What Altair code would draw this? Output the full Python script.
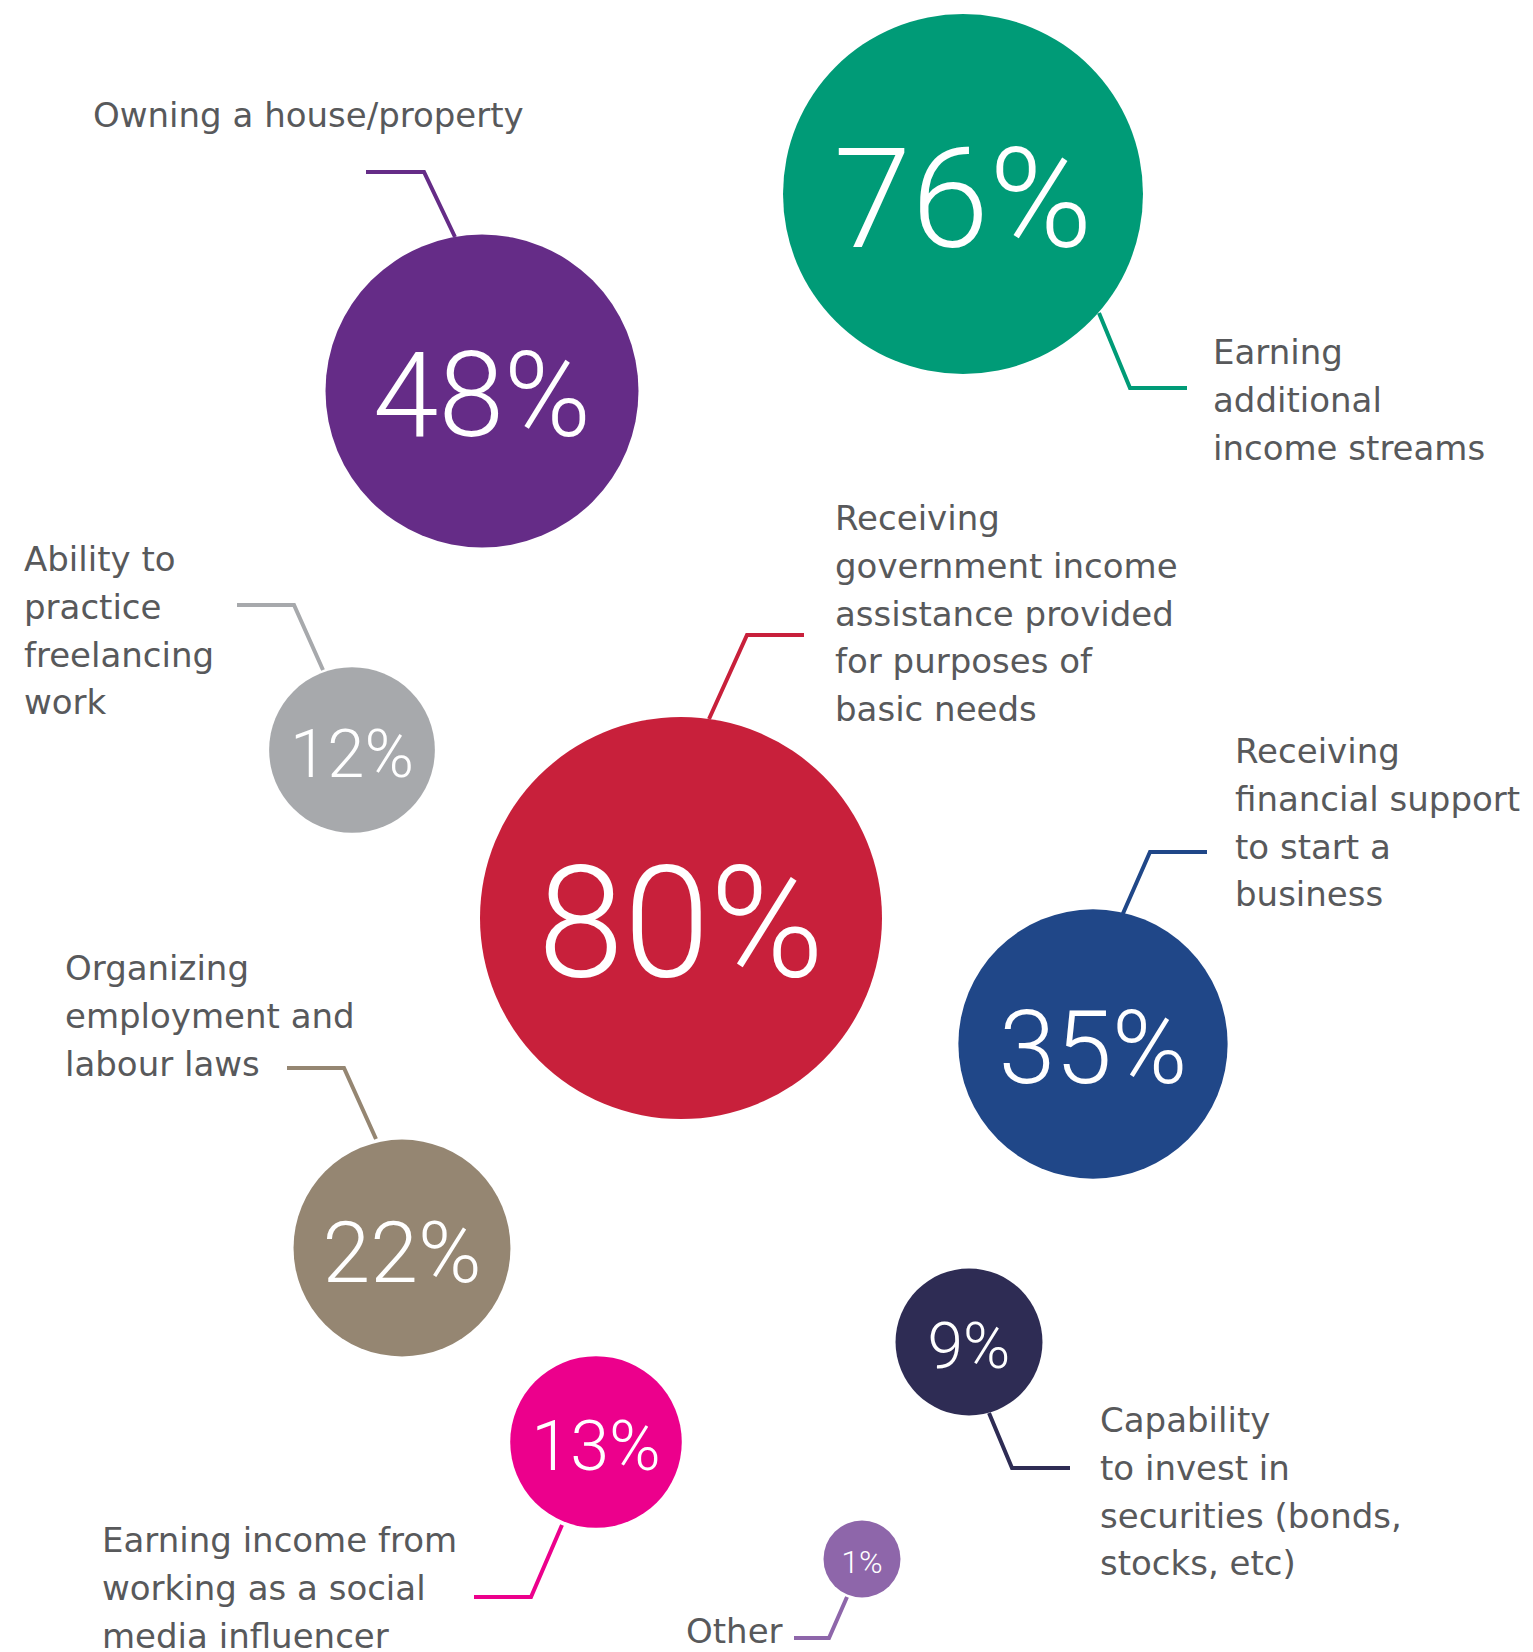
import altair as alt
import pandas as pd

# ---------------- data ----------------
categories = ["house", "income_streams", "freelancing", "gov_assistance",
              "business", "labour_laws", "securities", "influencer", "other"]
values = [48, 76, 12, 80, 35, 22, 9, 13, 1]
value_labels = ["48%", "76%", "12%", "80%", "35%", "22%", "9%", "13%", "1%"]
labels = [
    "Owning a house/property",
    "Earning\nadditional\nincome streams",
    "Ability to\npractice\nfreelancing\nwork",
    "Receiving\ngovernment income\nassistance provided\nfor purposes of\nbasic needs",
    "Receiving\nfinancial support\nto start a\nbusiness",
    "Organizing\nemployment and\nlabour laws",
    "Capability\nto invest in\nsecurities (bonds,\nstocks, etc)",
    "Earning income from\nworking as a social\nmedia influencer",
    "Other",
]

# ---------------- layout / style ----------------
colors = ["#652C87", "#009B77", "#A7A9AC", "#C8203B", "#204788",
          "#958672", "#2E2C54", "#EC008C", "#8E66AA"]
cx = [482, 963, 352, 681, 1093, 402, 969, 596, 862]
cy = [391, 194, 750, 918, 1044, 1248, 1342, 1442, 1559]
num_font = [118, 140, 67, 155, 102, 86, 64, 70, 32]
label_x = [93, 1213, 24, 835, 1235, 65, 1100, 102, 686]
label_y = [127, 364, 571, 530, 763, 980, 1432, 1552, 1643]
leader_x = [[366, 424, 455], [1099, 1130, 1187], [237, 294, 323],
            [804, 747, 709], [1207, 1150, 1121], [287, 344, 376],
            [989, 1012, 1070], [562, 531, 474], [847, 829, 794]]
leader_y = [[172, 172, 237], [313, 388, 388], [605, 605, 670],
            [635, 635, 719], [852, 852, 918], [1068, 1068, 1139],
            [1413, 1468, 1468], [1525, 1597, 1597], [1597, 1638, 1638]]
# bubble area scale stops (value -> symbol area in px^2)
size_domain = [1, 48, 76, 80]
size_range = [5929, 97969, 129600, 161604]

W, H = 1517, 1644

df = pd.DataFrame({
    "cat": categories, "value": values, "num": value_labels, "label": labels,
    "cx": cx, "cy": cy, "fs": num_font, "lx": label_x, "ly": label_y,
})

leader_rows = []
for c, xs_, ys_ in zip(categories, leader_x, leader_y):
    for k, (px, py) in enumerate(zip(xs_, ys_)):
        leader_rows.append({"cat": c, "k": k, "px": px, "py": py})
ldf = pd.DataFrame(leader_rows)

xsc = alt.Scale(domain=[8, 8 + W], nice=False, zero=False)
ysc = alt.Scale(domain=[8, 8 + H], nice=False, zero=False, reverse=True)
csc = alt.Scale(domain=categories, range=colors)

leaders = alt.Chart(ldf).mark_line(strokeWidth=4, strokeJoin="miter", strokeCap="butt").encode(
    x=alt.X("px:Q", scale=xsc, axis=None),
    y=alt.Y("py:Q", scale=ysc, axis=None),
    color=alt.Color("cat:N", scale=csc, legend=None),
    detail="cat:N",
    order="k:Q",
)

circles = alt.Chart(df).mark_circle(opacity=1).encode(
    x=alt.X("cx:Q", scale=xsc, axis=None),
    y=alt.Y("cy:Q", scale=ysc, axis=None),
    size=alt.Size("value:Q", scale=alt.Scale(domain=size_domain, range=size_range, zero=False), legend=None),
    color=alt.Color("cat:N", scale=csc, legend=None),
)

numbers = alt.Chart(df).transform_calculate(
    ty="datum.cy + 3 + 0.355 * datum.fs"
).mark_text(font="Roboto", fontWeight=300, color="white", align="center", baseline="alphabetic").encode(
    x=alt.X("cx:Q", scale=xsc, axis=None),
    y=alt.Y("ty:Q", scale=ysc, axis=None),
    text="num:N",
    size=alt.Size("fs:Q", scale=None),
)

texts = alt.Chart(df).mark_text(
    font="DejaVu Sans", fontSize=34, color="#58595B", align="left",
    baseline="alphabetic", lineBreak="\n", lineHeight=47.8,
).encode(
    x=alt.X("lx:Q", scale=xsc, axis=None),
    y=alt.Y("ly:Q", scale=ysc, axis=None),
    text="label:N",
)

chart = alt.layer(leaders, circles, numbers, texts).properties(
    width=W, height=H,
    autosize=alt.AutoSizeParams(type="none"),
    padding=0,
    background="white",
).configure_view(stroke=None)

chart.save("out.html", embed_options={"renderer": "svg", "actions": False})
